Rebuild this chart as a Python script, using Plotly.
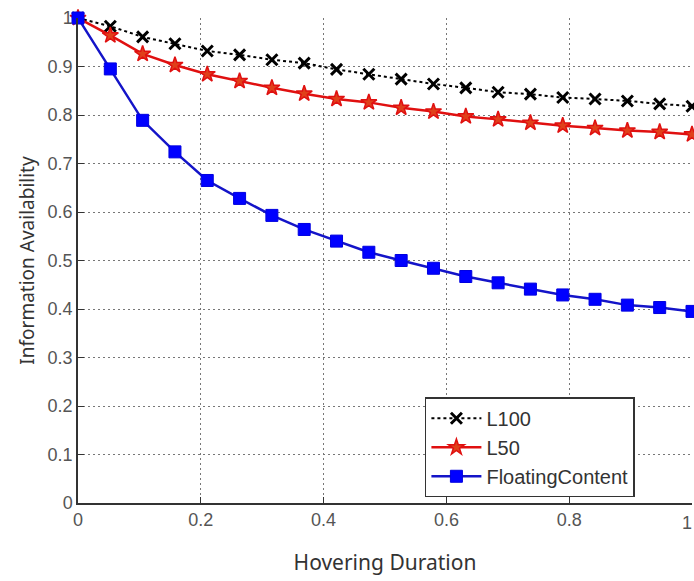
import plotly.graph_objects as go

x_vals = [i / 19 for i in range(20)]
l100 = [1.0, 0.983, 0.961, 0.947, 0.932, 0.924, 0.914, 0.907, 0.894, 0.884,
        0.874, 0.864, 0.856, 0.847, 0.843, 0.836, 0.833, 0.829, 0.823, 0.818]
l50 = [1.0, 0.964, 0.926, 0.903, 0.884, 0.870, 0.856, 0.844, 0.833, 0.826,
       0.815, 0.807, 0.797, 0.791, 0.784, 0.778, 0.773, 0.768, 0.765, 0.760]
floating = [1.0, 0.895, 0.789, 0.724, 0.665, 0.628, 0.593, 0.564, 0.540, 0.517,
            0.500, 0.484, 0.467, 0.454, 0.441, 0.429, 0.420, 0.408, 0.403, 0.395]

tick_vals = [0, 0.1, 0.2, 0.3, 0.4, 0.5, 0.6, 0.7, 0.8, 0.9, 1]
y_tick_text = ["0", "0.1", "0.2", "0.3", "0.4", "0.5", "0.6", "0.7", "0.8", "0.9", "1"]
x_tick_vals = [0, 0.2, 0.4, 0.6, 0.8, 1]
x_tick_text = ["0", "0.2", "0.4", "0.6", "0.8", "1"]

fig = go.Figure()
fig.add_trace(go.Scatter(
    x=x_vals, y=l100, name="L100", mode="lines+markers", cliponaxis=False,
    line=dict(color="black", width=2, dash="dot"),
    marker=dict(symbol="x-thin-open", size=11, color="black", line=dict(width=3, color="black")),
))
fig.add_trace(go.Scatter(
    x=x_vals, y=l50, name="L50", mode="lines+markers", cliponaxis=False,
    line=dict(color="#e01010", width=2.5),
    marker=dict(symbol="star", size=12, color="#e0401a", line=dict(width=1.5, color="#e01010")),
))
fig.add_trace(go.Scatter(
    x=x_vals, y=floating, name="FloatingContent", mode="lines+markers", cliponaxis=False,
    line=dict(color="#1414c8", width=2.5),
    marker=dict(symbol="square", size=12, color="#0000ff", line=dict(width=1, color="#0000e0")),
))

tick_font = dict(family="Liberation Sans Narrow, Liberation Sans, Arial", size=18, color="#555555")
grid_dash = "2px,3px"

fig.update_layout(
    width=694, height=581,
    margin=dict(l=78, r=2, t=18, b=78),
    paper_bgcolor="white", plot_bgcolor="white",
    showlegend=True,
    legend=dict(
        x=0.565, y=0.218, xanchor="left", yanchor="top",
        bgcolor="white", bordercolor="#333333", borderwidth=1.5,
        font=dict(family="Liberation Sans, Arial", size=20, color="#333333"),
        tracegroupgap=0, itemwidth=50,
    ),
)
# last x tick label "1" sits on the figure edge; show it explicitly, kept inside the page
fig.add_annotation(
    x=1, y=0, xref="x", yref="y", text=x_tick_text[-1], showarrow=False,
    xanchor="right", xshift=2, yshift=-20, font=tick_font,
)
fig.update_xaxes(
    range=[0, 1], tickvals=x_tick_vals, ticktext=x_tick_text,
    showgrid=True, gridcolor="#777777", griddash=grid_dash, gridwidth=1,
    zeroline=False, showline=True, linecolor="#333333", linewidth=1.5,
    ticks="inside", ticklen=6, tickcolor="#333333", tickfont=tick_font,
    title=dict(text="Hovering Duration", font=dict(family="Noto Sans, Arial", size=21, color="#333333"), standoff=26),
)
fig.update_yaxes(
    range=[0, 1], tickvals=tick_vals, ticktext=y_tick_text,
    showgrid=True, gridcolor="#777777", griddash=grid_dash, gridwidth=1,
    zeroline=False, showline=True, linecolor="#333333", linewidth=1.5,
    ticks="inside", ticklen=6, tickcolor="#333333", tickfont=tick_font,
    title=dict(text="Information Availability", font=dict(family="Noto Sans, Arial", size=19, color="#333333"), standoff=8),
)

fig.write_html("out.html")
